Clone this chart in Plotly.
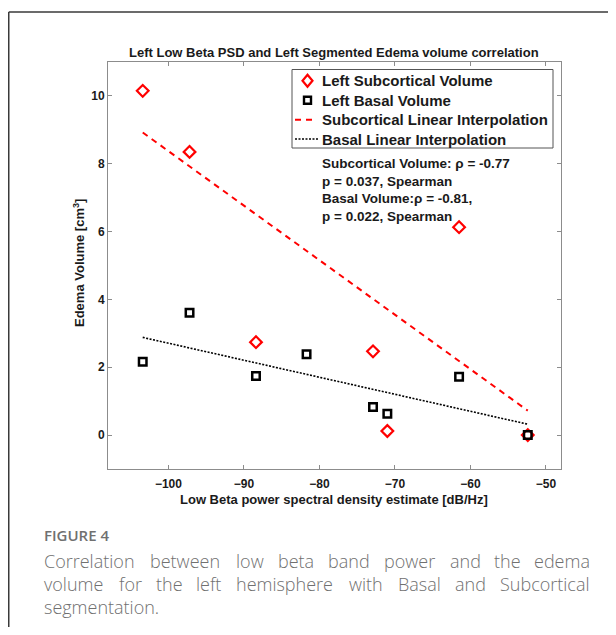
import plotly.graph_objects as go

# ---------------- data ----------------
subcortical_x = [-103.4, -97.2, -88.4, -72.9, -71.0, -61.5, -52.4]
subcortical_y = [10.15, 8.35, 2.74, 2.47, 0.12, 6.13, 0.0]
basal_x = [-103.4, -97.2, -88.4, -81.7, -72.9, -71.0, -61.5, -52.4]
basal_y = [2.16, 3.61, 1.74, 2.38, 0.83, 0.63, 1.72, 0.0]
sub_fit_x = [-103.4, -52.4]
sub_fit_y = [8.92, 0.72]
basal_fit_x = [-103.4, -52.4]
basal_fit_y = [2.88, 0.32]
x_ticks = [-100, -90, -80, -70, -60, -50]
y_ticks = [0, 2, 4, 6, 8, 10]
legend_labels = ["Left Subcortical Volume", "Left Basal Volume",
                 "Subcortical Linear Interpolation", "Basal Linear Interpolation"]
stats_lines = ["Subcortical Volume: ρ = -0.77", "p = 0.037, Spearman",
               "Basal Volume:ρ = -0.81,", "p = 0.022, Spearman"]
caption_lines = ["Correlation between low beta band power and the edema",
                 "volume for the left hemisphere with Basal and Subcortical",
                 "segmentation."]

# ---------------- layout geometry (page pixels; body margin = 8px) ----------------
PAGE_OFF = 8
WIDTH, HEIGHT = 600, 619
L, T = 100, 54
W, H = 453, 407
R = WIDTH - L - W
B = HEIGHT - T - H


def px2x(px):
    return (px - PAGE_OFF - L) / W


def py2y(py):
    return (T + H - (py - PAGE_OFF)) / H


FONT = "Liberation Sans, Arial, Helvetica, sans-serif"
TXT = "#1a1a1a"
RED = "#ff0000"

fig = go.Figure()
fig.add_trace(go.Scatter(
    x=sub_fit_x, y=sub_fit_y, mode="lines", name=legend_labels[2],
    line=dict(color=RED, width=2, dash="6px,5px")))
fig.add_trace(go.Scatter(
    x=basal_fit_x, y=basal_fit_y, mode="lines", name=legend_labels[3],
    line=dict(color="#000000", width=1.6, dash="2px,1.5px")))
fig.add_trace(go.Scatter(
    x=subcortical_x, y=subcortical_y, mode="markers", name=legend_labels[0],
    marker=dict(symbol="diamond-open", size=9, color=RED, line=dict(width=2.2, color=RED))))
fig.add_trace(go.Scatter(
    x=basal_x, y=basal_y, mode="markers", name=legend_labels[1],
    marker=dict(symbol="square-open", size=7.5, color="#000000", line=dict(width=2.5, color="#000000"))))

axis_common = dict(
    showline=True, linecolor="#8c8c8c", linewidth=1, mirror="ticks",
    ticks="inside", ticklen=4, tickcolor="#8c8c8c", tickwidth=1,
    showgrid=False, zeroline=False,
    tickfont=dict(family=FONT, size=12, color=TXT, weight="bold"),
)
fig.update_xaxes(range=[-108, -48], tickvals=x_ticks, ticklabelstandoff=4, **axis_common)
fig.update_yaxes(range=[-1, 11], tickvals=y_ticks, ticklabelstandoff=0, **axis_common)

annotations = []
shapes = []
# title
annotations.append(dict(
    text="Left Low Beta PSD and Left Segmented Edema volume correlation",
    x=px2x(333.5), y=py2y(53), xref="paper", yref="paper", showarrow=False,
    xanchor="center", yanchor="middle",
    font=dict(family=FONT, size=13, color=TXT, weight="bold")))
# axis titles
annotations.append(dict(
    text="Low Beta power spectral density estimate [dB/Hz]",
    x=px2x(334), y=py2y(499.5), xref="paper", yref="paper", showarrow=False,
    xanchor="center", yanchor="middle",
    font=dict(family=FONT, size=13, color=TXT, weight="bold")))
annotations.append(dict(
    text="Edema Volume [cm<sup>3</sup>]", textangle=-90,
    x=px2x(79), y=py2y(263), xref="paper", yref="paper", showarrow=False,
    xanchor="center", yanchor="middle",
    font=dict(family=FONT, size=13, color=TXT, weight="bold")))
# statistics text
annotations.append(dict(
    text="<br>".join(stats_lines), align="left",
    x=px2x(320), y=py2y(153.5), xref="paper", yref="paper", showarrow=False,
    xanchor="left", yanchor="top",
    font=dict(family=FONT, size=13.5, color=TXT, weight="bold")))

# ---------------- hand-drawn legend (MATLAB style, compact rows) ----------------
LG_L, LG_R, LG_T, LG_B = 292, 553, 69.5, 148
shapes.append(dict(type="rect", xref="paper", yref="paper",
                   x0=px2x(LG_L), x1=px2x(LG_R), y0=py2y(LG_B), y1=py2y(LG_T),
                   line=dict(color="#555555", width=1), fillcolor="white", layer="above"))
row_y = [80.7, 100.3, 119.7, 139.0]
sym_cx = 307.5
# diamond sample
dx, dy = 5.0, 6.0
cy = row_y[0]
path = "M {} {} L {} {} L {} {} L {} {} Z".format(
    px2x(sym_cx), py2y(cy - dy), px2x(sym_cx + dx), py2y(cy),
    px2x(sym_cx), py2y(cy + dy), px2x(sym_cx - dx), py2y(cy))
shapes.append(dict(type="path", xref="paper", yref="paper", path=path,
                   line=dict(color=RED, width=2.2), layer="above"))
# square sample
s = 3.5
cy = row_y[1]
shapes.append(dict(type="rect", xref="paper", yref="paper",
                   x0=px2x(sym_cx - s), x1=px2x(sym_cx + s), y0=py2y(cy + s), y1=py2y(cy - s),
                   line=dict(color="#000000", width=2.4), layer="above"))
# line samples
shapes.append(dict(type="line", xref="paper", yref="paper",
                   x0=px2x(295), x1=px2x(317), y0=py2y(row_y[2]), y1=py2y(row_y[2]),
                   line=dict(color=RED, width=2, dash="6px,5px"), layer="above"))
shapes.append(dict(type="line", xref="paper", yref="paper",
                   x0=px2x(295), x1=px2x(318), y0=py2y(row_y[3]), y1=py2y(row_y[3]),
                   line=dict(color="#000000", width=1.6, dash="2px,1.5px"), layer="above"))
for lab, yy in zip(legend_labels, row_y):
    annotations.append(dict(
        text=lab, x=px2x(320.5), y=py2y(yy), xref="paper", yref="paper", showarrow=False,
        xanchor="left", yanchor="middle", borderpad=0,
        font=dict(family=FONT, size=15, color=TXT, weight="bold")))

# ---------------- caption ----------------
CAP_FONT = "Open Sans, Noto Sans, sans-serif"
CAP_COLOR = "#707070"
annotations.append(dict(
    text="FIGURE 4", x=px2x(41.5), y=py2y(535), xref="paper", yref="paper",
    showarrow=False, xanchor="left", yanchor="middle",
    font=dict(family=CAP_FONT, size=15, color=CAP_COLOR, weight=600)))

# approximate Open Sans advance widths (em) for justification
cw = {' ': 0.26, 'a': 0.556, 'b': 0.613, 'c': 0.48, 'd': 0.613, 'e': 0.561, 'f': 0.336,
      'g': 0.539, 'h': 0.614, 'i': 0.258, 'l': 0.258, 'm': 0.932, 'n': 0.614, 'o': 0.602,
      'p': 0.613, 'r': 0.41, 's': 0.472, 't': 0.353, 'u': 0.614, 'v': 0.5, 'w': 0.78,
      'y': 0.5, 'B': 0.632, 'C': 0.618, 'S': 0.534, '.': 0.267}
CAP_SIZE = 18
LEFT_PX, RIGHT_PX = 42.5, 591.5
cap_y = [561, 584, 607]
for i, line in enumerate(caption_lines):
    words = line.split(" ")
    yy = py2y(cap_y[i])
    if i == len(caption_lines) - 1:
        annotations.append(dict(
            text=line, x=px2x(LEFT_PX), y=yy, xref="paper", yref="paper", showarrow=False,
            xanchor="left", yanchor="middle", borderpad=0,
            font=dict(family=CAP_FONT, size=CAP_SIZE, color=CAP_COLOR, weight=300)))
        continue
    widths = [sum(cw.get(ch, 0.55) for ch in wd) * CAP_SIZE for wd in words]
    gap = (RIGHT_PX - LEFT_PX - sum(widths)) / (len(words) - 1)
    xpos = LEFT_PX
    for wd, wdt in zip(words, widths):
        annotations.append(dict(
            text=wd, x=px2x(xpos), y=yy, xref="paper", yref="paper", showarrow=False,
            xanchor="left", yanchor="middle", borderpad=0,
            font=dict(family=CAP_FONT, size=CAP_SIZE, color=CAP_COLOR, weight=300)))
        xpos += wdt + gap

# figure frame (left and top edges)
shapes.append(dict(type="line", xref="paper", yref="paper", x0=px2x(8.75), x1=px2x(640),
                   y0=py2y(12), y1=py2y(12), line=dict(color="#3a3a3a", width=1.5)))
shapes.append(dict(type="line", xref="paper", yref="paper", x0=px2x(8.75), x1=px2x(8.75),
                   y0=py2y(12), y1=py2y(660), line=dict(color="#3a3a3a", width=1.5)))

fig.update_layout(
    width=WIDTH, height=HEIGHT,
    margin=dict(l=L, r=R, t=T, b=B, pad=0),
    paper_bgcolor="white", plot_bgcolor="white",
    font=dict(family=FONT, color=TXT),
    showlegend=False,
    annotations=annotations,
    shapes=shapes,
)

fig.write_html("out.html")
